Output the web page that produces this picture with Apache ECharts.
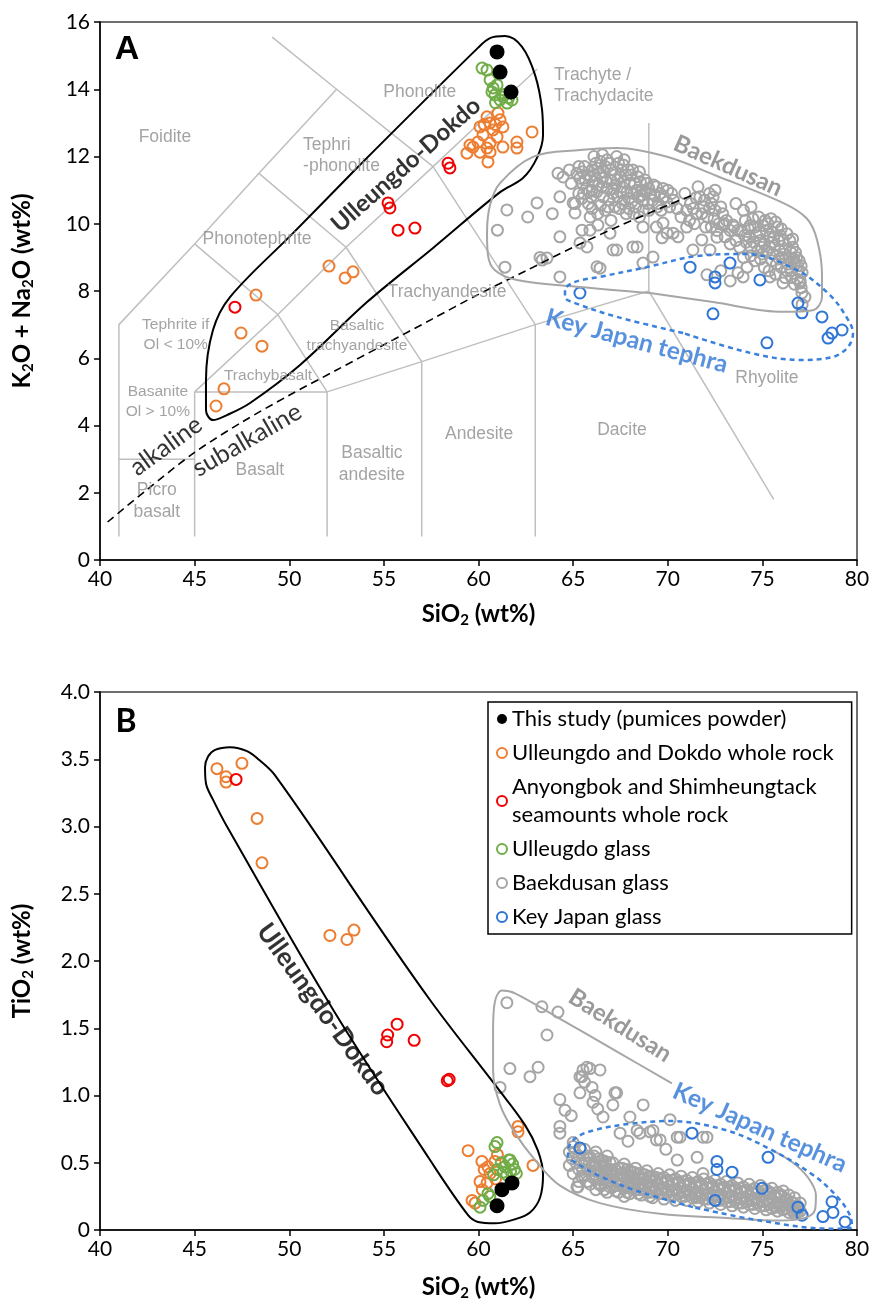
<!DOCTYPE html>
<html>
<head>
<meta charset="utf-8">
<script src="https://cdn.jsdelivr.net/npm/echarts@6/dist/echarts.min.js"></script>
<style>
html, body { margin: 0; padding: 0; background: #fff; }
#chart { width: 877px; height: 1313px; }
</style>
</head>
<body>
<div id="chart"></div>
<script>
// ---- panel A : TAS (SiO2 vs K2O + Na2O) ----
const thisStudyA = [[60.98, 15.11], [61.14, 14.51], [61.72, 13.92]];
const ulleungRockA = [
  [46.13, 4.58], [46.55, 5.09], [47.45, 6.75], [48.56, 6.36], [48.24, 7.88], [52.1, 8.74], [52.95, 8.39], [53.37, 8.57],
  [60.45, 13.18], [61.03, 13.29], [60.61, 13.0], [61.14, 13.09], [60.08, 12.88], [60.77, 12.79], [61.29, 12.88], [60.24, 12.64],
  [60.98, 12.58], [59.97, 12.43], [60.61, 12.4], [59.71, 12.28], [60.45, 12.25], [59.39, 12.1], [60.08, 12.13], [60.61, 12.13],
  [60.5, 11.84], [61.29, 12.28], [62.03, 12.43], [62.03, 12.25], [62.83, 12.73], [59.55, 12.34], [60.3, 12.95], [60.9, 12.95]
];
const seamountA = [[47.13, 7.52], [55.22, 10.62], [55.32, 10.47], [55.75, 9.81], [56.64, 9.87], [58.39, 11.8], [58.49, 11.66]];
const ulleungGlassA = [
  [60.19, 14.63], [60.45, 14.57], [60.61, 14.28], [60.77, 14.04], [60.87, 13.83], [61.14, 13.68], [61.51, 13.59], [61.77, 13.68],
  [60.98, 14.13], [60.71, 13.92], [61.29, 13.77], [61.03, 14.48], [61.4, 13.85], [60.9, 13.6], [61.6, 13.75]
];
const japanGlassA = [
  [65.36, 7.94], [71.18, 8.71], [73.29, 8.83], [72.5, 8.42], [72.5, 8.24], [74.87, 8.33], [72.39, 7.32], [76.88, 7.64],
  [77.09, 7.35], [78.15, 7.23], [79.21, 6.84], [78.68, 6.75], [78.47, 6.6], [75.24, 6.46]
];
const baekGlassA = [
  [61.5, 10.41], [63.09, 10.62], [62.6, 10.2], [61.0, 9.81], [64.3, 9.61], [61.4, 8.71], [63.36, 8.92], [63.62, 8.98], [64.3, 8.42],
  [65.36, 9.43], [65.89, 9.81], [66.31, 9.96], [65.73, 9.31], [67.11, 9.22], [66.42, 8.68], [68.16, 9.31], [68.69, 8.83], [69.22, 9.01],
  [68.69, 9.9], [69.75, 10.02], [69.7, 9.58], [70.28, 9.72], [70.54, 9.61], [71.0, 9.9], [71.8, 9.52], [71.33, 9.22], [72.23, 9.22],
  [72.07, 8.48], [73.71, 8.54], [74.19, 8.71], [73.98, 8.42], [76.09, 8.24], [77.09, 7.94], [77.25, 7.82], [75.4, 8.42], [73.03, 9.61],
  [73.45, 9.96], [64.47, 11.39], [64.3, 10.8], [65.0, 10.62], [65.1, 10.32], [64.2, 11.5], [63.25, 9.0], [66.26, 8.72], [65.47, 9.81],
  [66.95, 9.72], [67.3, 9.22], [68.38, 9.31], [69.96, 9.72], [69.4, 9.9], [76.99, 8.24], [77.1, 7.6], [73.3, 8.3], [72.8, 8.6],
  [65.9, 10.2], [63.9, 10.3],
  [65.2, 11.5], [65.5, 11.2], [65.6, 11.7], [65.9, 11.4], [66.0, 11.0], [66.2, 11.8], [66.4, 11.5], [66.5, 11.1], [66.6, 10.8],
  [66.8, 11.9], [67.0, 11.6], [67.0, 11.3], [67.1, 10.9], [67.2, 10.5], [67.4, 11.8], [67.5, 11.4], [67.6, 11.1], [67.7, 10.7],
  [67.8, 10.3], [67.9, 11.6], [68.0, 11.2], [68.2, 10.9], [68.3, 10.5], [68.4, 11.4], [68.6, 11.0], [68.7, 10.7], [68.9, 11.2],
  [69.0, 10.4], [69.1, 10.9], [69.4, 11.1], [69.5, 10.6], [69.8, 10.8], [70.1, 10.5], [70.3, 10.7], [65.3, 10.9], [65.8, 10.6],
  [66.3, 10.3], [64.9, 11.2], [65.1, 10.6], [64.8, 11.6], [66.1, 12.0], [67.3, 12.0], [66.7, 10.4], [68.5, 10.2], [67.0, 10.1],
  [65.35, 11.35], [65.75, 11.45], [65.7, 11.05], [66.1, 11.25], [66.3, 11.65], [66.25, 10.95], [66.55, 11.35], [66.7, 11.7],
  [66.8, 11.05], [66.9, 10.7], [67.2, 11.45], [67.25, 11.15], [67.35, 10.8], [67.55, 11.6], [67.7, 11.25], [67.85, 10.95],
  [68.05, 11.45], [68.1, 10.65], [68.25, 11.2], [68.45, 10.8], [68.55, 11.25], [68.8, 10.95], [68.95, 10.6], [69.2, 10.7],
  [69.25, 11.15], [69.6, 10.9], [69.95, 10.65], [65.45, 10.75], [65.95, 10.8], [66.45, 10.55], [67.45, 10.45], [67.95, 10.45],
  [66.0, 11.6], [65.5, 11.55], [68.7, 10.4], [69.65, 10.4], [70.5, 10.45], [70.0, 11.0], [66.55, 12.05], [67.7, 11.9],
  [65.3, 11.7], [65.65, 11.3], [65.85, 10.95], [66.15, 11.45], [66.35, 11.15], [66.6, 11.55], [66.75, 11.25], [66.95, 11.8],
  [67.15, 11.05], [67.35, 11.3], [67.5, 10.95], [67.65, 11.75], [67.8, 11.45], [67.95, 10.75], [68.15, 11.6], [68.35, 11.0],
  [68.5, 11.55], [68.65, 10.85], [68.8, 11.3], [69.0, 11.05], [69.3, 10.85], [69.45, 10.5], [69.75, 11.05], [70.2, 10.9],
  [66.0, 10.45], [66.85, 10.5], [67.6, 10.6], [68.2, 10.3], [65.55, 10.9], [66.45, 11.85],
  [71.2, 10.6], [71.5, 10.3], [71.7, 10.8], [71.9, 10.5], [72.1, 10.2], [72.3, 10.6], [72.5, 10.4], [72.7, 10.0], [72.9, 10.3],
  [71.4, 10.0], [72.0, 9.9], [73.1, 10.1], [72.6, 9.8], [71.0, 10.4], [70.7, 10.2], [73.3, 9.8], [72.2, 10.9], [71.5, 10.77],
  [71.35, 10.45], [71.8, 10.3], [72.2, 10.45], [72.45, 10.15], [72.8, 10.5], [71.95, 10.7], [72.95, 9.95], [71.15, 10.1], [72.4, 10.8],
  [72.6, 9.6], [73.0, 10.0], [73.3, 9.4], [73.7, 9.8], [72.3, 9.9], [74.0, 10.4], [73.6, 10.6], [74.4, 10.5], [72.5, 11.0],
  [71.6, 11.1], [70.9, 10.9],
  [73.9, 9.8], [74.1, 10.1], [74.3, 9.6], [74.4, 9.3], [74.6, 9.9], [74.8, 10.2], [74.9, 9.5], [75.0, 9.1], [75.2, 9.8],
  [75.3, 10.0], [75.4, 9.3], [75.5, 8.9], [75.6, 9.6], [75.8, 9.9], [75.9, 9.2], [76.0, 8.7], [76.1, 9.5], [76.3, 9.7],
  [76.4, 9.0], [76.5, 8.6], [76.6, 9.3], [76.8, 9.0], [76.9, 8.6], [77.0, 8.3], [76.7, 8.2], [76.2, 8.4], [75.7, 8.5],
  [73.6, 9.5], [74.0, 9.0], [75.1, 8.7], [74.6, 8.9], [73.5, 9.9],
  [74.25, 9.85], [74.5, 10.15], [74.7, 9.65], [74.75, 9.2], [75.05, 9.95], [75.1, 9.4], [75.35, 9.6], [75.45, 10.15], [75.65, 9.35],
  [75.75, 8.8], [75.95, 9.65], [76.05, 9.0], [76.2, 9.25], [76.35, 8.8], [76.45, 9.5], [76.7, 8.8], [76.75, 9.15], [76.95, 8.9],
  [77.1, 8.55], [76.55, 8.4], [75.35, 8.6], [74.9, 8.95], [74.4, 9.05], [73.8, 9.3], [74.15, 9.45], [75.55, 9.75], [76.0, 9.85],
  [76.6, 9.55], [77.05, 8.1], [76.85, 8.35],
  [74.05, 9.65], [74.35, 9.95], [74.55, 9.45], [74.85, 9.75], [75.15, 10.1], [75.25, 9.2], [75.5, 9.45], [75.7, 10.05],
  [75.85, 9.5], [76.15, 9.1], [76.3, 8.6], [76.5, 9.15], [76.65, 8.95], [76.85, 8.75], [77.05, 8.75], [75.9, 8.95], [75.55, 9.1],
  [74.95, 9.3]
];

// TAS field boundaries (Le Bas et al. 1986), as drawn
const tasBoundaries = [
  [[41, 0.7], [41, 7], [45, 9.4], [48.4, 11.5], [52.5, 14], [49.1, 15.55]],
  [[41, 3], [45, 3]],
  [[45, 0.7], [45, 5], [52, 5], [57, 5.9], [63, 7], [69, 8], [75.6, 1.8]],
  [[52, 0.7], [52, 5]],
  [[57, 0.7], [57, 5.9]],
  [[63, 0.7], [63, 7]],
  [[45, 5], [49.4, 7.3], [53, 9.3], [57.6, 11.7], [61, 13.5], [63.1, 14.6]],
  [[52, 5], [49.4, 7.3], [45, 9.4]],
  [[57, 5.9], [53, 9.3], [48.4, 11.5]],
  [[63, 7], [57.6, 11.7], [52.5, 14]],
  [[69, 8], [69, 13]]
];
const alkalineDivide = [[40.4, 1.13], [42.5, 2.1], [45, 3.2], [47.5, 4.1], [50, 4.9], [52.5, 5.65], [55, 6.4], [57.5, 7.15],
  [60, 7.9], [62.5, 8.6], [65, 9.3], [67.5, 9.95], [70, 10.55], [71.3, 10.85]];

const ulleungFieldA = [[53.47, 11.6], [59.97, 15.23], [60.61, 15.52], [61.4, 15.58], [62.3, 15.26], [62.99, 14.42], [63.36, 13.38],
  [63.41, 12.64], [63.09, 11.96], [62.35, 11.36], [61.14, 10.94], [57.6, 9.28], [54.11, 7.67], [50.57, 5.8], [47.93, 4.67],
  [46.71, 4.31], [45.97, 4.16], [45.6, 4.46], [45.6, 5.35], [45.97, 6.84], [46.87, 7.82], [50.2, 9.72], [53.47, 11.6]];
const baekFieldA = [[69.06, 7.94], [65.36, 8.12], [62.03, 8.33], [60.87, 8.62], [60.5, 9.07], [60.45, 9.72], [60.61, 10.56],
  [61.14, 11.21], [62.88, 11.99], [65.36, 12.19], [67.32, 12.25], [69.96, 11.99], [72.6, 11.42], [76.09, 10.62], [77.36, 10.15],
  [77.89, 9.52], [78.15, 8.48], [78.15, 7.82], [77.67, 7.43], [76.09, 7.38], [72.39, 7.67], [69.06, 7.94]];
const japanFieldA = [[70.81, 6.75], [67.32, 7.23], [65.1, 7.64], [64.57, 7.82], [64.57, 8.03], [65.1, 8.27], [66.42, 8.42],
  [68.9, 8.71], [71.55, 9.04], [74.19, 9.1], [76.83, 8.62], [78.57, 7.88], [79.47, 7.2], [79.79, 6.75], [79.52, 6.33],
  [78.73, 6.04], [76.99, 5.95], [74.35, 6.16], [70.81, 6.75]];

// ---- panel B : SiO2 vs TiO2 ----
const thisStudyB = [[61.24, 0.3], [61.77, 0.35], [60.98, 0.18]];
const ulleungRockB = [
  [46.18, 3.43], [46.66, 3.37], [46.66, 3.33], [47.5, 3.47], [48.3, 3.06], [48.56, 2.73], [52.15, 2.19], [53.05, 2.16], [53.42, 2.23],
  [62.09, 0.77], [62.09, 0.73], [59.45, 0.59], [60.18, 0.51], [60.5, 0.47], [62.88, 0.48], [60.08, 0.36], [60.45, 0.35],
  [59.66, 0.22], [59.82, 0.2], [60.87, 0.51], [60.61, 0.42], [60.3, 0.45], [60.9, 0.38], [60.2, 0.3], [61.0, 0.56]
];
const seamountB = [[47.19, 3.35], [55.2, 1.45], [55.15, 1.4], [55.7, 1.53], [56.6, 1.41], [58.35, 1.11], [58.45, 1.12]];
const ulleungGlassB = [
  [60.98, 0.65], [60.87, 0.62], [61.2, 0.5], [61.4, 0.47], [61.6, 0.52], [61.8, 0.49], [61.9, 0.45], [61.3, 0.43], [61.5, 0.41],
  [61.0, 0.45], [60.8, 0.41], [61.7, 0.44], [62.0, 0.42], [60.08, 0.17], [60.24, 0.22], [60.5, 0.27], [61.67, 0.52], [60.6, 0.25]
];
const japanGlassB = [
  [65.36, 0.61], [71.28, 0.72], [72.6, 0.51], [72.6, 0.45], [73.4, 0.43], [72.5, 0.22], [75.3, 0.54], [74.98, 0.31],
  [76.88, 0.17], [77.1, 0.11], [78.2, 0.1], [78.68, 0.21], [78.73, 0.13], [79.37, 0.06]
];
const baekGlassB = [
  [61.5, 1.69], [63.35, 1.66], [64.2, 1.62], [63.62, 1.45], [61.66, 1.2], [62.72, 1.14], [63.15, 1.21], [61.14, 1.06], [64.3, 0.97],
  [64.57, 0.89], [65.36, 1.14], [65.52, 1.19], [65.89, 1.2], [66.42, 1.19], [66.0, 1.06], [66.16, 1.0], [65.36, 1.02], [67.3, 1.02],
  [67.1, 0.93], [68.7, 0.93], [66.58, 0.84], [68.0, 0.84], [64.3, 0.77], [64.3, 0.72], [70.12, 0.82], [67.48, 0.72], [68.38, 0.74],
  [69.06, 0.73], [69.4, 0.67], [70.65, 0.69], [71.86, 0.69], [65.2, 0.32], [65.73, 1.21], [65.47, 1.14], [67.21, 1.02], [66.05, 0.95],
  [68.53, 0.72], [69.22, 0.74], [69.6, 0.67], [70.5, 0.69], [72.07, 0.69], [71.55, 0.54], [70.5, 0.52], [71.86, 0.42], [65.26, 0.32],
  [71.55, 0.25], [65.6, 1.1], [66.3, 0.9], [67.9, 0.66], [69.9, 0.6], [64.9, 0.85], [65.0, 0.65],
  [64.8, 0.58], [64.8, 0.48], [65.0, 0.62], [65.0, 0.42], [65.3, 0.55], [65.3, 0.45], [65.3, 0.36], [65.6, 0.6], [65.6, 0.5],
  [65.6, 0.4], [65.9, 0.54], [65.9, 0.44], [65.9, 0.34], [66.2, 0.58], [66.2, 0.48], [66.2, 0.38], [66.2, 0.3], [66.5, 0.52],
  [66.5, 0.42], [66.5, 0.33], [66.8, 0.55], [66.8, 0.45], [66.8, 0.36], [66.8, 0.28], [67.1, 0.5], [67.1, 0.4], [67.1, 0.32],
  [67.4, 0.46], [67.4, 0.37], [67.4, 0.28], [67.7, 0.49], [67.7, 0.4], [67.7, 0.31], [67.7, 0.25], [68.0, 0.44], [68.0, 0.35],
  [68.0, 0.27], [68.3, 0.46], [68.3, 0.38], [68.3, 0.3], [68.6, 0.42], [68.6, 0.33], [68.6, 0.26], [68.9, 0.44], [68.9, 0.36],
  [68.9, 0.28], [69.2, 0.4], [69.2, 0.32], [69.2, 0.24], [69.5, 0.42], [69.5, 0.34], [69.5, 0.27], [69.8, 0.39], [69.8, 0.31],
  [69.8, 0.23], [70.1, 0.41], [70.1, 0.33], [70.1, 0.26], [70.4, 0.38], [70.4, 0.3], [70.4, 0.22], [70.7, 0.4], [70.7, 0.32],
  [70.7, 0.25], [71.0, 0.37], [71.0, 0.29], [71.0, 0.22], [71.3, 0.39], [71.3, 0.31], [71.3, 0.24], [71.6, 0.36], [71.6, 0.28],
  [71.6, 0.21], [71.9, 0.38], [71.9, 0.3], [71.9, 0.23], [72.2, 0.35], [72.2, 0.27], [72.2, 0.2], [72.5, 0.37], [72.5, 0.29],
  [72.8, 0.34], [72.8, 0.26], [72.8, 0.19], [73.1, 0.36], [73.1, 0.28], [73.1, 0.21], [73.4, 0.33], [73.4, 0.25], [73.4, 0.18],
  [73.7, 0.35], [73.7, 0.27], [73.7, 0.2], [74.0, 0.32], [74.0, 0.24], [74.0, 0.17], [74.3, 0.34], [74.3, 0.26], [74.3, 0.19],
  [74.6, 0.31], [74.6, 0.23], [74.6, 0.16], [74.9, 0.33], [74.9, 0.25], [74.9, 0.18], [75.2, 0.3], [75.2, 0.22], [75.2, 0.15],
  [75.5, 0.31], [75.5, 0.23], [75.5, 0.16], [75.8, 0.28], [75.8, 0.2], [75.8, 0.14], [76.1, 0.29], [76.1, 0.21], [76.1, 0.15],
  [76.4, 0.26], [76.4, 0.19], [76.4, 0.13], [76.7, 0.24], [76.7, 0.17], [76.7, 0.12], [77.0, 0.2], [77.0, 0.14],
  [64.95, 0.53], [65.15, 0.5], [65.45, 0.5], [65.45, 0.4], [65.75, 0.55], [65.75, 0.45], [65.75, 0.36], [66.05, 0.49], [66.05, 0.39],
  [66.35, 0.53], [66.35, 0.43], [66.35, 0.34], [66.65, 0.47], [66.65, 0.38], [66.65, 0.3], [66.95, 0.5], [66.95, 0.41], [66.95, 0.32],
  [67.25, 0.45], [67.25, 0.36], [67.25, 0.29], [67.55, 0.42], [67.55, 0.33], [67.85, 0.45], [67.85, 0.36], [67.85, 0.28],
  [68.15, 0.4], [68.15, 0.31], [68.45, 0.42], [68.45, 0.34], [68.45, 0.27], [68.75, 0.38], [68.75, 0.3], [69.05, 0.4], [69.05, 0.32],
  [69.05, 0.25], [69.35, 0.37], [69.35, 0.29], [69.65, 0.38], [69.65, 0.3], [69.95, 0.36], [69.95, 0.28], [70.25, 0.37],
  [70.25, 0.29], [70.55, 0.35], [70.55, 0.27], [70.85, 0.36], [70.85, 0.28], [71.15, 0.34], [71.15, 0.26], [71.45, 0.35],
  [71.45, 0.27], [71.75, 0.33], [71.75, 0.25], [72.05, 0.34], [72.05, 0.26], [72.35, 0.32], [72.35, 0.24], [72.65, 0.33],
  [72.65, 0.25], [72.95, 0.31], [72.95, 0.23], [73.25, 0.32], [73.25, 0.24], [73.55, 0.3], [73.55, 0.22], [73.85, 0.31],
  [73.85, 0.23], [74.15, 0.29], [74.15, 0.21], [74.45, 0.3], [74.45, 0.22], [74.75, 0.28], [74.75, 0.2], [75.05, 0.29],
  [75.05, 0.21], [75.35, 0.27], [75.35, 0.19], [75.65, 0.26], [75.65, 0.18], [75.95, 0.25], [75.95, 0.17], [76.25, 0.23],
  [76.25, 0.16], [76.55, 0.21], [76.55, 0.15], [76.85, 0.18], [76.85, 0.13],
  [65.1, 0.58], [65.4, 0.6], [65.5, 0.45], [65.85, 0.5], [66.1, 0.55], [66.1, 0.44], [66.4, 0.48], [66.4, 0.38], [66.7, 0.51],
  [66.7, 0.42], [67.0, 0.45], [67.0, 0.37], [67.3, 0.41], [67.3, 0.33], [67.6, 0.46], [67.6, 0.37], [67.9, 0.4], [67.9, 0.32],
  [68.2, 0.43], [68.2, 0.35], [68.5, 0.38], [68.5, 0.3], [68.8, 0.41], [68.8, 0.33], [69.1, 0.36], [69.1, 0.28], [69.4, 0.39],
  [69.4, 0.31], [69.7, 0.35], [69.7, 0.27], [70.0, 0.37], [70.0, 0.3], [70.3, 0.34], [70.3, 0.26], [70.6, 0.36], [70.6, 0.29],
  [70.9, 0.33], [70.9, 0.25], [71.2, 0.35], [71.2, 0.28], [71.5, 0.32], [71.5, 0.24], [71.8, 0.34], [71.8, 0.27], [72.1, 0.31],
  [72.1, 0.23], [72.4, 0.33], [72.4, 0.26], [72.7, 0.3], [72.7, 0.22], [73.0, 0.32], [73.0, 0.25], [73.3, 0.29], [73.3, 0.21],
  [73.6, 0.31], [73.6, 0.24], [73.9, 0.28], [73.9, 0.2], [74.2, 0.3], [74.2, 0.23], [74.5, 0.27], [74.5, 0.19], [74.8, 0.29],
  [74.8, 0.22], [75.1, 0.26], [75.1, 0.18], [75.4, 0.28], [75.4, 0.21], [75.7, 0.25], [75.7, 0.17], [76.0, 0.26], [76.0, 0.19],
  [76.3, 0.22], [76.3, 0.16], [76.6, 0.2], [76.6, 0.14], [76.9, 0.16]
];

const ulleungFieldB = [[53.21, 2.57], [57.44, 1.71], [60.98, 1.06], [62.46, 0.78], [63.14, 0.59], [63.41, 0.41], [63.25, 0.24],
  [62.72, 0.13], [61.93, 0.08], [60.87, 0.05], [59.97, 0.06], [59.45, 0.11], [57.44, 0.52], [52.31, 1.64], [46.71, 3.0],
  [45.97, 3.2], [45.6, 3.32], [45.55, 3.44], [45.71, 3.52], [46.08, 3.57], [46.87, 3.59], [47.77, 3.56], [48.45, 3.49],
  [49.25, 3.38], [53.21, 2.57]];
const baekFieldB = [[70.22, 1.09], [67.27, 1.33], [64.31, 1.57], [61.93, 1.76], [61.24, 1.78], [60.87, 1.7], [60.77, 1.49],
  [60.77, 1.19], [61.14, 0.93], [61.93, 0.72], [62.99, 0.52], [64.31, 0.33], [66.42, 0.2], [69.59, 0.12], [73.13, 0.09],
  [75.93, 0.07], [77.25, 0.09], [77.78, 0.15], [77.83, 0.26], [77.41, 0.39], [76.62, 0.5], [75.56, 0.59]];
const japanFieldB = [[71.33, 0.17], [68.38, 0.29], [66.42, 0.4], [65.26, 0.49], [64.73, 0.55], [64.73, 0.59], [65.1, 0.68],
  [66.05, 0.74], [68.0, 0.79], [70.12, 0.81], [73.13, 0.74], [75.56, 0.59], [77.67, 0.41], [78.94, 0.25], [79.63, 0.11],
  [79.74, 0.02], [78.57, 0.01], [74.87, 0.07], [71.33, 0.17]];

const legendNames = ["This study (pumices powder)", "Ulleungdo and Dokdo whole rock",
  "Anyongbok and Shimheungtack\nseamounts whole rock", "Ulleugdo glass", "Baekdusan glass", "Key Japan glass"];

// rock-field names in panel A: [text, SiO2, alkalis, small]
const fieldNames = [
  ["Foidite", 43.43, 12.58], ["Phonolite", 56.9, 13.92], ["Phonotephrite", 48.3, 9.55],
  ["Trachyandesite", 58.34, 7.97], ["Basalt", 48.45, 2.68], ["Basaltic\nandesite", 54.37, 2.86],
  ["Andesite", 60.03, 3.75], ["Dacite", 67.58, 3.87], ["Rhyolite", 75.24, 5.41], ["Picro\nbasalt", 43.0, 1.76],
  ["Tephrite if\nOl < 10%", 44.0, 6.69, 1], ["Basanite\nOl > 10%", 43.06, 4.7, 1], ["Trachybasalt", 48.88, 5.47, 1],
  ["Basaltic\ntrachyandesite", 53.58, 6.66, 1]
];
const fieldNamesLeft = [["Tephri\n-phonolite", 50.73, 12.02], ["Trachyte /\nTrachydacite", 63.99, 14.1]];
// group names: [text, x, y, angle, kind, panel]
const groupNames = [
  ["Ulleungdo-Dokdo", 56.17, 11.75, 41.5, "black", 0],
  ["Baekdusan", 73.18, 11.72, -24, "gray", 0],
  ["Key Japan tephra", 68.37, 6.51, -15, "blue", 0],
  ["alkaline", 43.49, 3.39, 36, "plain", 0],
  ["subalkaline", 47.77, 3.57, 30, "plain", 0],
  ["Ulleungdo-Dokdo", 51.78, 1.64, -54, "blackB", 1],
  ["Baekdusan", 67.48, 1.52, -32, "gray", 1],
  ["Key Japan tephra", 74.87, 0.76, -24, "blue", 1]
];

const COL = { black: "#000", orange: "#ED7D31", red: "#F00000", green: "#70AD47", gray: "#A5A5A5", blue: "#2E75D6" };
const CAL = "Lato, 'Noto Sans', sans-serif";
const ARIAL = "'Liberation Sans', Arial, sans-serif";

function pts(name, data, color, panel, filled) {
  return {
    type: "scatter", name: name, data: data, xAxisIndex: panel, yAxisIndex: panel,
    symbol: "circle", symbolSize: filled ? 15 : 11, z: 3,
    itemStyle: filled ? { color: color, opacity: 1 }
      : { color: "rgba(255,255,255,0)", borderColor: color, borderWidth: 2, opacity: 1 }
  };
}
function path(data, color, width, type, panel, smooth, z) {
  return {
    type: "line", data: data, xAxisIndex: panel, yAxisIndex: panel, symbol: "none", silent: true,
    smooth: smooth, z: z, lineStyle: { color: color, width: width, type: type }
  };
}
function textSeries(items, panel) {
  return {
    type: "scatter", xAxisIndex: panel, yAxisIndex: panel, symbolSize: 1, silent: true, z: 6,
    itemStyle: { color: "rgba(0,0,0,0)" }, data: items,
    label: { show: true, position: "inside", formatter: "{b}" }
  };
}

const series = [];
tasBoundaries.forEach(b => series.push(path(b, "#BFBFBF", 1.5, "solid", 0, false, 1)));
series.push(path(alkalineDivide, "#000", 1.6, [8, 5], 0, 0.3, 4));

series.push(pts(legendNames[4], baekGlassA, COL.gray, 0));
series.push(pts(legendNames[5], japanGlassA, COL.blue, 0));
series.push(pts(legendNames[1], ulleungRockA, COL.orange, 0));
series.push(pts(legendNames[2], seamountA, COL.red, 0));
series.push(pts(legendNames[3], ulleungGlassA, COL.green, 0));
series.push(pts(legendNames[0], thisStudyA, COL.black, 0, true));

series.push(pts(legendNames[4], baekGlassB, COL.gray, 1));
series.push(pts(legendNames[5], japanGlassB, COL.blue, 1));
series.push(pts(legendNames[1], ulleungRockB, COL.orange, 1));
series.push(pts(legendNames[2], seamountB, COL.red, 1));
series.push(pts(legendNames[3], ulleungGlassB, COL.green, 1));
series.push(pts(legendNames[0], thisStudyB, COL.black, 1, true));

series.push(path(ulleungFieldA, "#000", 2, "solid", 0, 0.35, 5));
series.push(path(baekFieldA, "#A6A6A6", 2, "solid", 0, 0.35, 5));
series.push(path(japanFieldA, "#3A80DC", 2.5, [5, 4], 0, 0.35, 5));
series.push(path(ulleungFieldB, "#000", 2, "solid", 1, 0.35, 5));
series.push(path(baekFieldB, "#A6A6A6", 2, "solid", 1, 0.35, 5));
series.push(path(japanFieldB, "#3A80DC", 2.5, [5, 4], 1, 0.35, 5));

const fieldItems = fieldNames.map(f => ({
  name: f[0], value: [f[1], f[2]],
  label: { fontFamily: ARIAL, color: "#8C8C8C", fontSize: f[3] ? 15.5 : 17.5, lineHeight: f[3] ? 20 : 22 }
})).concat(fieldNamesLeft.map(f => ({
  name: f[0], value: [f[1], f[2]],
  label: { fontFamily: ARIAL, color: "#8C8C8C", fontSize: 17.5, lineHeight: 21, align: "left" }
})));
series.push(textSeries(fieldItems, 0));

const kindStyle = {
  black: { color: "#000", fontWeight: "bold", fontSize: 24 },
  blackB: { color: "#000", fontWeight: "bold", fontSize: 26 },
  gray: { color: "#7F7F7F", fontWeight: "bold", fontSize: 24 },
  blue: { color: "#2E75D6", fontWeight: "bold", fontSize: 24.5 },
  plain: { color: "#000", fontWeight: "normal", fontSize: 25 }
};
[0, 1].forEach(p => {
  const items = groupNames.filter(g => g[5] === p).map(g => ({
    name: g[0], value: [g[1], g[2]],
    label: Object.assign({ fontFamily: CAL, rotate: g[3] }, kindStyle[g[4]])
  }));
  series.push(textSeries(items, p));
});

const subRich = { s: { fontSize: 15, fontWeight: "bold", fontFamily: CAL, verticalAlign: "bottom", lineHeight: 14 } };
const nameStyle = { fontSize: 24, fontWeight: "bold", fontFamily: CAL, color: "#000", lineHeight: 28, rich: subRich };

function xAxis(panel, gap) {
  return {
    gridIndex: panel, type: "value", min: 40, max: 80, interval: 5,
    axisLine: { show: true, onZero: false, lineStyle: { color: "#000", width: 1.5 } },
    axisTick: { show: true, length: 6, lineStyle: { color: "#000", width: 1.5 } },
    axisLabel: { fontSize: 21, color: "#000", fontFamily: CAL, margin: 9 },
    splitLine: { show: false },
    name: "SiO{s|2} (wt%)", nameLocation: "middle", nameGap: gap, nameTextStyle: nameStyle
  };
}
function yAxis(panel, max, interval, name, fmt) {
  return {
    gridIndex: panel, type: "value", min: 0, max: max, interval: interval,
    axisLine: { show: true, onZero: false, lineStyle: { color: "#000", width: 1.5 } },
    axisTick: { show: true, length: 6, lineStyle: { color: "#000", width: 1.5 } },
    axisLabel: { fontSize: 21, color: "#000", fontFamily: CAL, margin: 10, formatter: fmt },
    splitLine: { show: false },
    name: name, nameLocation: "middle", nameGap: 64, nameTextStyle: nameStyle
  };
}

const chart = echarts.init(document.getElementById("chart"));
chart.setOption({
  animation: false,
  backgroundColor: "#fff",
  grid: [
    { left: 100, top: 22, width: 757, height: 538, show: true, borderColor: "#404040", borderWidth: 1.5 },
    { left: 100, top: 692, width: 757, height: 538, show: true, borderColor: "#404040", borderWidth: 1.5 }
  ],
  xAxis: [xAxis(0, 40), xAxis(1, 43)],
  yAxis: [
    yAxis(0, 16, 2, "K{s|2}O + Na{s|2}O (wt%)", v => String(v)),
    yAxis(1, 4, 0.5, "TiO{s|2} (wt%)", v => (v === 0 ? "0" : v.toFixed(1)))
  ],
  legend: {
    data: legendNames, orient: "vertical", left: 488, top: 702,
    icon: "circle", itemWidth: 10, itemHeight: 10, itemGap: 6,
    textStyle: { fontSize: 22, fontFamily: CAL, color: "#000", lineHeight: 28 },
    borderColor: "#000", borderWidth: 1.5, padding: [3, 18, 3, 8], backgroundColor: "#fff"
  },
  graphic: [
    { type: "text", x: 127, y: 50, z: 10, style: { text: "A", font: "bold 34px " + ARIAL, fill: "#000", textAlign: "center", textVerticalAlign: "middle" } },
    { type: "text", x: 126, y: 722, z: 10, style: { text: "B", font: "bold 32px " + CAL, fill: "#000", textAlign: "center", textVerticalAlign: "middle" } }
  ],
  series: series
});
</script>
</body>
</html>
